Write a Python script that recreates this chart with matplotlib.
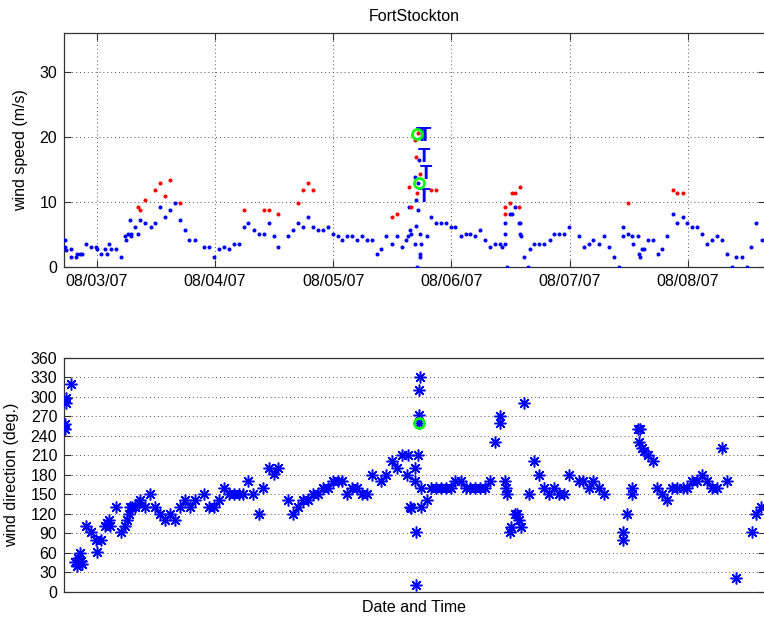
import datetime
import pandas as pd
import matplotlib
matplotlib.use("Agg")
import matplotlib.pyplot as plt
import matplotlib.dates as mdates

plt.rcParams['font.family'] = ['Liberation Sans', 'DejaVu Sans']
plt.rcParams['font.size'] = 11.5

START = datetime.datetime(2007, 8, 3)
XLIM_HOURS = (-6.55, 135.5)

# wind speed, hours after 08/03/07 00:00
speed_hours = [-6.5, -6.5, -6.2, -5.2, -5.1, -4.2, -3.9, -3.4, -3.0, -2.2, -1.1, -0.1, 0.1, 0.9,
               1.8, 2.2, 2.6, 3.0, 3.9, 5.0, 5.7, 5.9, 6.4, 6.9, 6.9, 6.8, 7.8, 8.4, 8.9, 9.9,
               11.0, 11.9, 12.9, 13.9, 14.9, 15.9, 17.0, 17.9, 18.8, 19.9, 21.8, 22.8, 23.9,
               24.9, 25.8, 26.8, 27.9, 28.9, 29.9, 30.8, 31.9, 32.9, 33.9, 34.9, 35.9, 36.8,
               38.9, 39.9, 40.8, 41.9, 42.9, 43.9, 44.9, 45.9, 46.9, 48.0, 48.9, 49.8, 50.8,
               51.9, 52.9, 53.8, 54.8, 55.9, 56.9, 57.8, 58.8, 59.9, 60.9, 61.9, 62.8, 63.2,
               63.6, 63.3, 63.8, 64.6, 64.8, 64.9, 65.3, 64.6, 65.3, 65.0, 65.6, 65.7, 65.6,
               65.9, 65.5, 67.0, 67.8, 68.8, 69.9, 70.9, 71.9, 72.8, 73.9, 74.9, 75.8, 76.8,
               77.8, 78.8, 79.8, 80.8, 81.8, 82.2, 82.8, 82.9, 82.9, 83.2, 83.9, 84.2, 84.8,
               85.6, 85.9, 85.9, 86.1, 86.8, 87.6, 87.9, 88.8, 89.8, 90.8, 91.9, 92.8, 93.9,
               94.9, 95.9, 97.9, 98.9, 99.9, 100.8, 101.9, 102.9, 103.9, 104.9, 106.0, 106.8,
               106.8, 107.8, 108.6, 108.9, 109.8, 110.1, 110.2, 110.6, 111.0, 111.8, 112.9,
               113.8, 114.8, 115.8, 116.9, 117.8, 118.9, 119.8, 120.8, 121.8, 122.8, 123.8,
               124.8, 125.9, 126.9, 127.9, 128.9, 129.8, 130.9, 131.9, 132.8, 133.8, 134.9]
speed_ms = [4.1, 3.1, 2.6, 2.7, 1.5, 1.5, 2.05, 2.05, 2.05, 3.6, 3.1, 3.1, 2.7, 2.05,
            2.7, 2.05, 3.6, 2.7, 2.7, 1.5, 4.7, 4.1, 5.1, 5.1, 4.7, 7.2, 6.2, 5.1, 7.2, 6.8,
            6.2, 6.8, 9.3, 7.7, 8.8, 9.8, 7.2, 5.7, 4.1, 4.1, 3.1, 3.1, 1.5,
            2.7, 3.1, 2.7, 3.6, 3.6, 6.2, 6.8, 5.7, 5.1, 5.1, 6.8, 4.7, 3.1,
            4.7, 5.7, 6.8, 6.2, 7.7, 6.2, 5.7, 5.7, 6.2, 5.1, 4.7, 4.1, 4.7,
            4.7, 4.1, 4.7, 4.1, 4.1, 2.05, 2.7, 4.7, 3.6, 4.7, 3.1, 4.1, 4.7,
            5.7, 9.3, 5.1, 3.6, 6.3, 10.3, 8.8, 13.9, 13.0, 0.0, 5.1, 2.05, 1.5,
            3.6, 16.5, 4.7, 7.7, 6.8, 6.8, 6.8, 6.2, 6.2, 4.7, 5.1, 5.1, 4.7,
            5.7, 4.1, 3.1, 3.6, 3.6, 3.1, 5.1, 6.8, 3.6, 0.0, 8.2, 8.2, 9.3,
            6.8, 6.8, 5.1, 4.7, 1.5, 0.0, 2.7, 3.6, 3.6, 3.6, 4.1, 5.1, 5.1,
            5.1, 6.2, 4.7, 3.1, 3.6, 4.1, 3.6, 4.7, 3.1, 1.5, 0.0, 6.2,
            4.7, 5.1, 4.7, 3.6, 4.7, 2.05, 1.5, 2.7, 2.7, 4.1, 4.1,
            2.05, 2.7, 4.7, 8.2, 6.8, 7.7, 6.8, 6.2, 6.2, 5.1, 3.6,
            4.1, 4.7, 4.1, 2.05, 0.0, 1.5, 1.5, 0.0, 3.1, 6.8, 4.1]

# gusts (red)
gust_hours = [8.5, 8.9, 9.9, 11.9, 12.9, 13.9, 14.9, 17.0, 29.9, 33.9, 34.9, 36.8, 40.8, 41.9,
              42.9, 43.9, 59.9, 60.9, 63.4, 63.7, 64.6, 65.3, 64.8, 65.6, 65.1, 67.8, 68.8,
              82.8, 82.8, 83.9, 84.2, 84.9, 85.9, 85.6, 107.8, 116.9, 117.8, 118.9]
gust_ms = [9.3, 8.8, 10.3, 11.8, 13.0, 10.9, 13.4, 9.8, 8.8, 8.8, 8.8, 8.2, 9.8, 11.8,
           13.0, 11.8, 7.7, 8.2, 12.3, 9.3, 19.6, 20.6, 17.0, 14.4, 11.4, 11.8, 11.8,
           8.2, 9.3, 9.8, 11.4, 11.4, 12.3, 9.3, 9.8, 11.8, 11.4, 11.4]

# "T" flags and highlighted samples
flag_hours = [64.7, 65.4, 65.1, 65.6, 65.2]
flag_ms = [20.3, 20.3, 17.0, 14.4, 10.9]
mark_hours = [65.0, 65.4]
mark_ms = [20.5, 13.0]
mark_dir_hours = [65.4]
mark_dir_deg = [260]

# wind direction
dir_hours = [-6.5, -6.5, -6.2, -6.2, -5.2, -4.3, -4.0, -3.7, -3.4, -3.2, -3.0, -2.2, -1.2, -0.2,
             0.1, 0.8, 1.8, 2.2, 2.6, 2.8, 3.9, 4.9, 5.8, 6.2, 6.5, 6.8, 7.2, 7.8, 8.6, 8.9,
             9.9, 10.8, 11.9, 12.9, 13.9, 14.9, 16.0, 16.9, 17.9, 18.9, 19.9, 21.8, 22.8,
             23.8, 24.8, 25.8, 26.8, 27.8, 28.8, 29.7, 30.8, 31.8, 32.9, 33.8, 34.9, 35.9,
             36.9, 38.9, 39.9, 40.8, 41.9, 42.9, 43.9, 44.9, 45.9, 46.9, 47.9, 48.9, 49.8,
             50.8, 51.9, 52.9, 53.8, 54.8, 55.9, 57.8, 58.8, 59.9, 60.9, 61.9, 62.9, 63.2,
             63.6, 63.8, 64.6, 64.6, 64.9, 64.9, 65.3, 65.4, 65.4, 65.5, 65.6, 65.9, 65.9,
             67.0, 67.8, 68.8, 69.9, 70.9, 71.9, 72.8, 73.9, 74.9, 75.8, 76.8, 77.8, 78.8,
             79.9, 80.8, 81.8, 81.8, 82.8, 83.0, 83.2, 83.9, 84.0, 84.9, 85.3, 85.7, 86.1,
             86.8, 87.7, 88.8, 89.8, 90.8, 91.8, 92.8, 93.9, 94.9, 95.9, 97.9, 98.7, 99.9,
             100.8, 101.9, 102.9, 106.8, 106.8, 107.7, 108.6, 108.7, 109.8, 110.0, 110.2,
             110.6, 111.0, 111.8, 112.9, 113.7, 114.8, 115.8, 116.8, 117.8, 118.9, 119.8,
             120.8, 121.8, 122.8, 123.8, 124.8, 125.9, 126.9, 127.9, 129.8, 132.9, 133.8, 134.8]
dir_deg = [259, 251, 299, 290, 320, 45, 40, 52, 59, 47, 43, 101, 91, 80,
           61, 80, 101, 106, 110, 101, 131, 91, 101, 110, 120, 131, 131, 131, 136, 141,
           131, 150, 131, 120, 110, 120, 110, 131, 141, 131, 141, 150, 131,
           131, 141, 160, 150, 150, 150, 150, 170, 150, 120, 160, 191, 181,
           191, 141, 120, 131, 141, 141, 150, 150, 160, 160, 170, 170, 170,
           150, 160, 160, 150, 150, 180, 170, 180, 201, 191, 210, 180, 210,
           131, 128, 191, 170, 91, 10, 210, 272, 260, 310, 331, 160, 131,
           141, 160, 160, 160, 160, 160, 170, 170, 160, 160, 160, 160, 160,
           170, 231, 270, 260, 170, 160, 150, 91, 100, 120, 120, 110, 100,
           291, 150, 201, 180, 160, 150, 160, 150, 150, 180, 170, 170, 160,
           170, 160, 150, 91, 80, 120, 150, 160, 251, 231, 251,
           221, 216, 210, 201, 160, 150, 141, 160, 160, 160, 160,
           170, 170, 180, 170, 160, 160, 221, 170, 21, 91, 120, 131]


def to_time(hours):
    return pd.Timestamp(START) + pd.to_timedelta(hours, unit="h")


BLUE = (0, 0, 1)
RED = (1, 0, 0)
GREEN = (0, 1, 0)
AXCOL = "#333333"
GRID = dict(color="#555555", linestyle=(0, (1, 3)), linewidth=0.7)

fig = plt.figure(figsize=(7.64, 6.17), dpi=100)
W, H = 764.0, 617.0
ax1 = fig.add_axes([64.3 / W, 350.1 / H, 700.2 / W, 233.4 / H])
ax2 = fig.add_axes([64.3 / W, 25.5 / H, 700.2 / W, 233.5 / H])

# top: wind speed
ax1.plot(to_time(speed_hours), speed_ms, "o", color=BLUE, ms=2.9, mew=0, zorder=3)
ax1.plot(to_time(gust_hours), gust_ms, "o", color=RED, ms=2.9, mew=0, zorder=3)
for h, v in zip(flag_hours, flag_ms):
    ax1.text(to_time(h), v, "T", color=BLUE, fontsize=14.5, fontweight="bold",
             ha="left", va="center", zorder=4)
ax1.plot(to_time(mark_hours), mark_ms, "o", ms=7.2, mfc="none", mec=GREEN, mew=1.9, zorder=5)

ax1.set_ylim(0, 36)
ax1.set_yticks([0, 10, 20, 30])
ax1.xaxis.set_major_locator(mdates.DayLocator())
ax1.xaxis.set_major_formatter(mdates.DateFormatter("%m/%d/%y"))
ax1.set_ylabel("wind speed (m/s)")
ax1.yaxis.set_label_coords(-0.052, 0.5)
ax1.set_title("FortStockton", fontsize=11.5, pad=9)
ax1.grid(True, **GRID)

# bottom: wind direction
ax2.plot(to_time(dir_hours), dir_deg, linestyle="none", marker=(8, 2, 0), color=BLUE,
         ms=8.5, mew=1.1, zorder=3)
ax2.plot(to_time(mark_dir_hours), mark_dir_deg, "o", ms=7.2, mfc="none", mec=GREEN, mew=1.9,
         zorder=5)
ax2.set_ylim(0, 360)
ax2.set_yticks(range(0, 361, 30))
ax2.set_xticks([])
ax2.set_ylabel("wind direction (deg.)")
ax2.yaxis.set_label_coords(-0.064, 0.5)
ax2.set_xlabel("Date and Time")
ax2.xaxis.set_label_coords(0.5, -0.035)
ax2.yaxis.grid(True, **GRID)

for ax in (ax1, ax2):
    ax.set_xlim(to_time(XLIM_HOURS[0]), to_time(XLIM_HOURS[1]))
    ax.set_axisbelow(True)
    ax.tick_params(direction="in", length=5, width=0.8, color=AXCOL, top=True, right=True,
                   labelsize=11.5, pad=5)
    for s in ax.spines.values():
        s.set_color(AXCOL)
        s.set_linewidth(0.9)

fig.savefig("out.png", dpi=100)
